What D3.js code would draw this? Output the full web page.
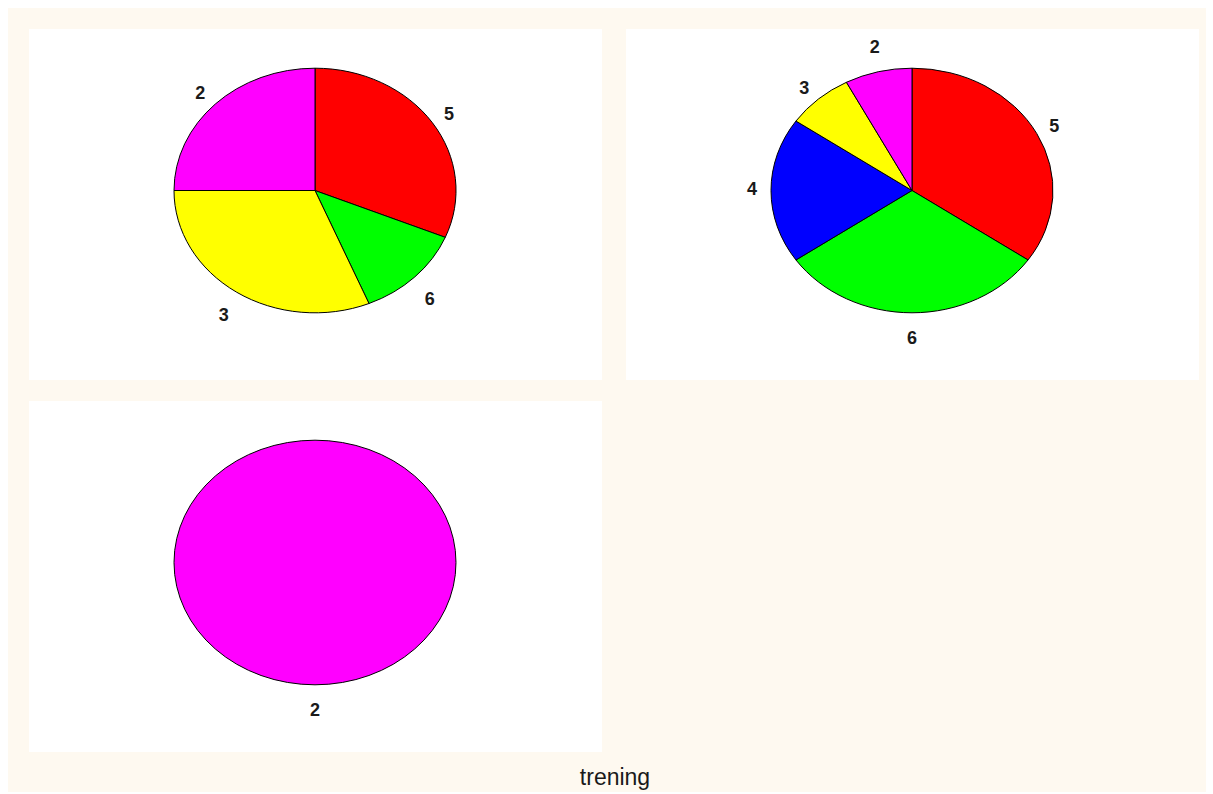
<!DOCTYPE html>
<html>
<head>
<meta charset="utf-8">
<script src="https://cdn.jsdelivr.net/npm/d3@7"></script>
<style>
  body { margin: 0; background: #fff; }
  svg { display: block; font-family: "Liberation Sans", Arial, Helvetica, sans-serif; }
</style>
</head>
<body>
<div id="chart"></div>
<script>
// slice values per panel (clockwise from 12 o'clock) and their labels
const labels1 = ["5", "6", "3", "2"]
const values1 = [5, 2, 5, 4]
const labels2 = ["5", "6", "4", "3", "2"]
const values2 = [9, 8, 5, 2, 2]
const labels3 = ["2"]
const values3 = [1]

const categories = ["5", "6", "4", "3", "2"]
const categoryColors = ["#ff0000", "#00ff00", "#0000ff", "#ffff00", "#ff00ff"]

const byTitle = "trening"

function drawChart() {
  const W = 1213, H = 794
  const panelW = 573, panelH = 351
  const panels = [
    { x: 29, y: 29, labels: labels1, values: values1 },
    { x: 626, y: 29, labels: labels2, values: values2 },
    { x: 29, y: 401, labels: labels3, values: values3 }
  ]
  const rx = 141, ry = 122.3

  const color = d3.scaleOrdinal().domain(categories).range(categoryColors)

  const svg = d3.select("#chart")
    .append("svg")
    .attr("width", W)
    .attr("height", H)

  svg.append("rect")
    .attr("x", 8).attr("y", 8)
    .attr("width", 1198).attr("height", 784)
    .attr("fill", "#fef9f0")

  const pie = d3.pie().sort(null).value((d) => d.value)
  const arc = d3.arc().innerRadius(0).outerRadius(1)

  panels.forEach((p) => {
    svg.append("rect")
      .attr("x", p.x).attr("y", p.y)
      .attr("width", panelW).attr("height", panelH)
      .attr("fill", "#fff")

    const cx = p.x + 286, cy = p.y + 161.5
    const data = p.values.map((v, i) => ({ label: p.labels[i], value: v }))
    const arcs = pie(data)

    const g = svg.append("g").attr("transform", `translate(${cx},${cy}) scale(${rx},${ry})`)

    if (arcs.length === 1) {
      g.append("circle")
        .attr("r", 1)
        .attr("fill", color(arcs[0].data.label))
        .attr("stroke", "#000")
        .attr("stroke-width", 1)
        .attr("vector-effect", "non-scaling-stroke")
    } else {
      g.selectAll("path")
        .data(arcs)
        .enter()
        .append("path")
        .attr("d", arc)
        .attr("fill", (d) => color(d.data.label))
        .attr("stroke", "#000")
        .attr("stroke-width", 1)
        .attr("stroke-linejoin", "round")
        .attr("vector-effect", "non-scaling-stroke")
    }

    // labels sit just outside the rim at each slice's middle angle
    svg.selectAll(null)
      .data(arcs)
      .enter()
      .append("text")
      .attr("x", (d) => {
        const a = (d.startAngle + d.endAngle) / 2
        return cx + Math.sin(a) * rx * 1.1
      })
      .attr("y", (d) => {
        const a = (d.startAngle + d.endAngle) / 2
        const c = Math.cos(a)
        let off = -2
        if (c < -0.3) off = 13
        else if (c > 0.9) off = -13
        return cy - c * ry * 1.1 + off
      })
      .attr("dominant-baseline", "central")
      .attr("text-anchor", (d) => {
        const s = Math.sin((d.startAngle + d.endAngle) / 2)
        if (Math.abs(s) < 0.3) return "middle"
        return s > 0 ? "start" : "end"
      })
      .attr("font-size", "18px")
      .attr("font-weight", "bold")
      .attr("fill", "#1a1a1a")
      .text((d) => d.data.label)
  })

  svg.append("text")
    .attr("x", 615)
    .attr("y", 785)
    .attr("text-anchor", "middle")
    .attr("font-size", "23px")
    .attr("fill", "#1a1a1a")
    .text(byTitle)
}

drawChart()
</script>
</body>
</html>
